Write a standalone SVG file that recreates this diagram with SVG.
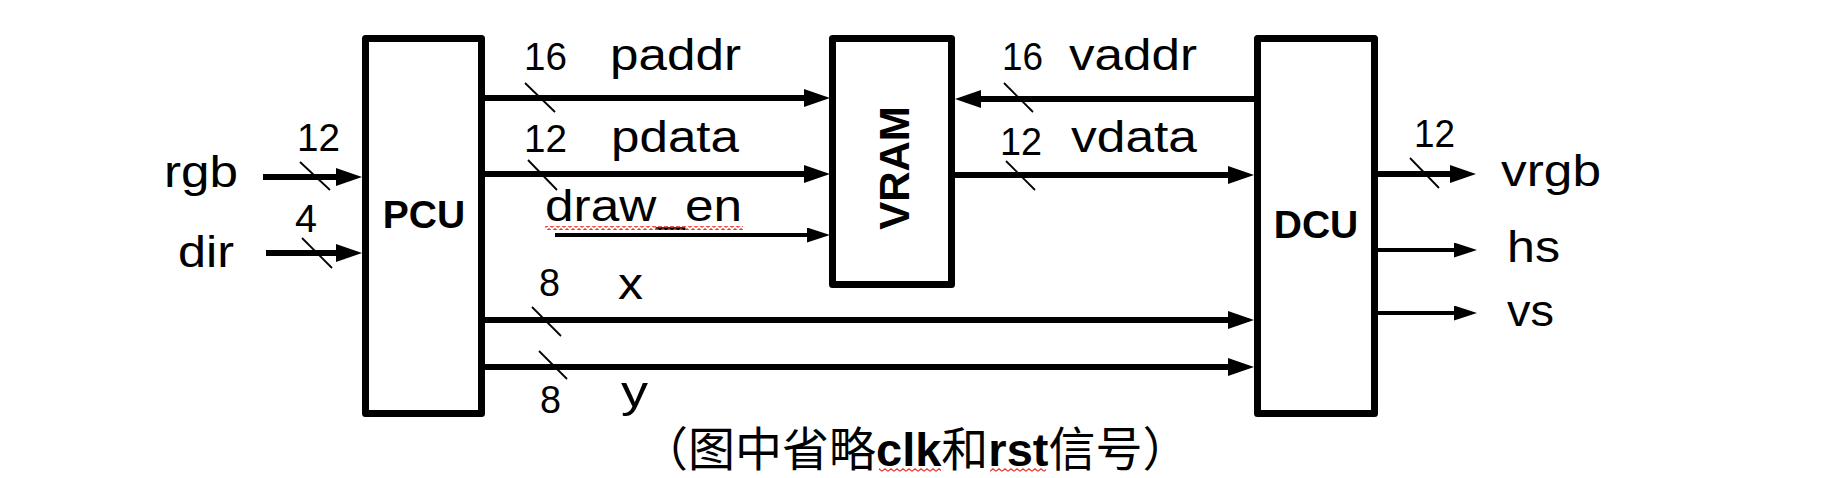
<svg xmlns="http://www.w3.org/2000/svg" width="1846" height="478" viewBox="0 0 1846 478">
<style>
.box{fill:#fff;stroke:#000;stroke-width:7;stroke-linejoin:round}
.bus{fill:none;stroke:#000;stroke-width:6}
.sig{fill:none;stroke:#000;stroke-width:4}
.tick{fill:none;stroke:#000;stroke-width:1.8}
.lbl{font-family:"Liberation Sans",Arial,sans-serif;font-size:44px;fill:#000}
.num{font-family:"Liberation Sans",Arial,sans-serif;font-size:39px;fill:#000}
.blk{font-family:"Liberation Sans",Arial,sans-serif;font-size:39px;font-weight:bold;fill:#000}
.cap{font-family:"Liberation Sans","Noto Sans CJK SC",sans-serif;font-size:47px;fill:#000}
</style>
<defs>
<marker id="ah" markerUnits="userSpaceOnUse" markerWidth="26" markerHeight="18" refX="16" refY="9" orient="auto"><path d="M0,0 L26,9 L0,18 z" fill="#000"/></marker>
<marker id="ahs" markerUnits="userSpaceOnUse" markerWidth="23" markerHeight="15" refX="15" refY="7.5" orient="auto"><path d="M0,0 L23,7.5 L0,15 z" fill="#000"/></marker>
<pattern id="wave" width="6" height="4" patternUnits="userSpaceOnUse"><path d="M0,3.2 L3,0.8 L6,3.2" fill="none" stroke="#e8332a" stroke-width="1.2"/></pattern>
</defs>
<rect width="1846" height="478" fill="#fff"/>

<g id="connectors">
<path class="bus" d="M263,177 H352" marker-end="url(#ah)"/>
<path class="bus" d="M266,253 H352" marker-end="url(#ah)"/>
<path class="bus" d="M485,98 H820" marker-end="url(#ah)"/>
<path class="bus" d="M485,174 H820" marker-end="url(#ah)"/>
<path class="sig" d="M555,235 H822" marker-end="url(#ahs)"/>
<path class="bus" d="M1254,99 H965" marker-end="url(#ah)"/>
<path class="bus" d="M955,175 H1244" marker-end="url(#ah)"/>
<path class="bus" d="M485,320 H1244" marker-end="url(#ah)"/>
<path class="bus" d="M485,367 H1244" marker-end="url(#ah)"/>
<path class="bus" d="M1378,174 H1466" marker-end="url(#ah)"/>
<path class="sig" d="M1378,250 H1469" marker-end="url(#ahs)"/>
<path class="sig" d="M1378,313 H1469" marker-end="url(#ahs)"/>
<g id="bus-ticks">
<line class="tick" x1="300" y1="162" x2="330" y2="190"/>
<line class="tick" x1="302" y1="238" x2="332" y2="268"/>
<line class="tick" x1="525" y1="83" x2="555" y2="112"/>
<line class="tick" x1="528" y1="160" x2="557" y2="190"/>
<line class="tick" x1="1004" y1="83" x2="1033" y2="112"/>
<line class="tick" x1="1006" y1="161" x2="1035" y2="190"/>
<line class="tick" x1="532" y1="307" x2="561" y2="336"/>
<line class="tick" x1="539" y1="351" x2="567" y2="379"/>
<line class="tick" x1="1410" y1="158" x2="1439" y2="188"/>
</g>
<g id="connector-labels">
<text class="lbl" x="164" y="187" textLength="74" lengthAdjust="spacingAndGlyphs">rgb</text>
<text class="num" x="297" y="151" textLength="43" lengthAdjust="spacingAndGlyphs">12</text>
<text class="lbl" x="178" y="267" textLength="56" lengthAdjust="spacingAndGlyphs">dir</text>
<text class="num" x="295" y="232" textLength="22" lengthAdjust="spacingAndGlyphs">4</text>
<text class="num" x="524" y="70" textLength="43" lengthAdjust="spacingAndGlyphs">16</text>
<text class="lbl" x="610" y="70" textLength="131" lengthAdjust="spacingAndGlyphs">paddr</text>
<text class="num" x="524" y="152" textLength="43" lengthAdjust="spacingAndGlyphs">12</text>
<text class="lbl" x="611" y="152" textLength="128" lengthAdjust="spacingAndGlyphs">pdata</text>
<text class="lbl" x="545" y="221" textLength="197" lengthAdjust="spacingAndGlyphs">draw_en</text>
<rect x="545" y="226" width="198" height="4" fill="url(#wave)"/>
<text class="num" x="539" y="296" textLength="21" lengthAdjust="spacingAndGlyphs">8</text>
<text class="lbl" x="618" y="299" textLength="25" lengthAdjust="spacingAndGlyphs">x</text>
<text class="num" x="540" y="413" textLength="21" lengthAdjust="spacingAndGlyphs">8</text>
<text class="lbl" x="621" y="407" textLength="27" lengthAdjust="spacingAndGlyphs">y</text>
<text class="num" x="1002" y="70" textLength="41" lengthAdjust="spacingAndGlyphs">16</text>
<text class="lbl" x="1069" y="70" textLength="128" lengthAdjust="spacingAndGlyphs">vaddr</text>
<text class="num" x="1000" y="155" textLength="42" lengthAdjust="spacingAndGlyphs">12</text>
<text class="lbl" x="1071" y="152" textLength="126" lengthAdjust="spacingAndGlyphs">vdata</text>
<text class="num" x="1414" y="147" textLength="41" lengthAdjust="spacingAndGlyphs">12</text>
<text class="lbl" x="1501" y="186" textLength="100" lengthAdjust="spacingAndGlyphs">vrgb</text>
<text class="lbl" x="1507" y="262" textLength="53" lengthAdjust="spacingAndGlyphs">hs</text>
<text class="lbl" x="1507" y="326" textLength="47" lengthAdjust="spacingAndGlyphs">vs</text>
</g>
</g>

<g id="PCU">
<rect class="box" x="365.5" y="38.5" width="116" height="375"/>
<text class="blk" x="424" y="228" text-anchor="middle">PCU</text>
</g>
<g id="VRAM">
<rect class="box" x="832.5" y="38.5" width="119" height="246"/>
<text class="blk" style="font-size:42px" transform="translate(909,168) rotate(-90)" text-anchor="middle">VRAM</text>
</g>
<g id="DCU">
<rect class="box" x="1257.5" y="38.5" width="117" height="375"/>
<text class="blk" x="1316" y="238" text-anchor="middle">DCU</text>
</g>

<g id="caption">
<text class="cap" x="641" y="466">（图中省略<tspan font-weight="bold">clk</tspan>和<tspan font-weight="bold">rst</tspan>信号）</text>
<rect x="879" y="468" width="62" height="4" fill="url(#wave)"/>
<rect x="990" y="468" width="56" height="4" fill="url(#wave)"/>
</g>
</svg>
